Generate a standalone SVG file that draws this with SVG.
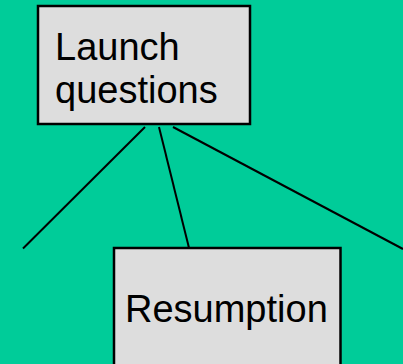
<svg xmlns="http://www.w3.org/2000/svg" width="403" height="364" viewBox="0 0 403 364">
<style>
.box{fill:#dddddd;stroke:#000;stroke-width:2.5}
.lbl{font-family:"Liberation Sans",Arial,sans-serif;font-size:38px;fill:#000}
.edge{stroke:#000;stroke-width:2;fill:none}
</style>
<rect width="403" height="364" fill="#00cc99"/>
<g id="connectors">
<line class="edge" x1="145" y1="127" x2="23" y2="248.5"/>
<line class="edge" x1="159" y1="127" x2="189" y2="248"/>
<line class="edge" x1="173" y1="127" x2="403" y2="249"/>
</g>
<g id="launch">
<rect class="box" x="38" y="6" width="212" height="118"/>
<text class="lbl" x="55" y="60">Launch</text>
<text class="lbl" x="55" y="103">questions</text>
</g>
<g id="resumption">
<rect class="box" x="114" y="248" width="226.5" height="130"/>
<text class="lbl" x="125" y="322">Resumption</text>
</g>
</svg>
